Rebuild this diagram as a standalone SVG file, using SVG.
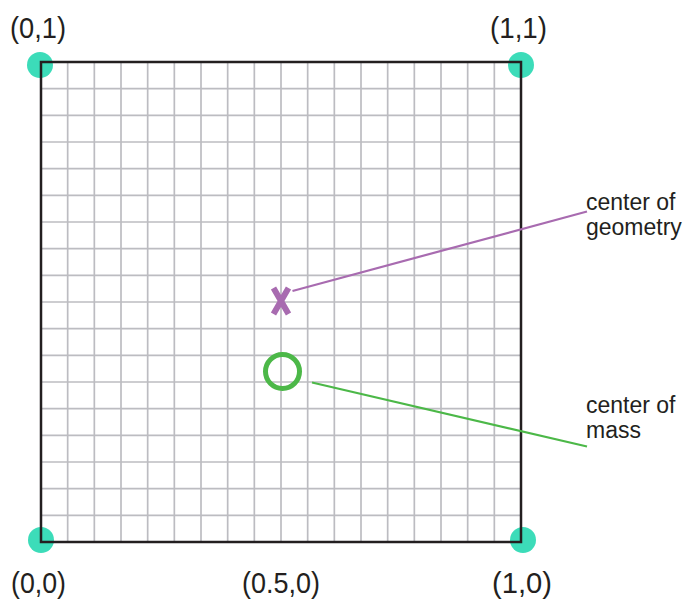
<svg xmlns="http://www.w3.org/2000/svg" width="687" height="600" viewBox="0 0 687 600">
<style>
.lbl{font-family:"Liberation Sans",Arial,sans-serif;font-size:30px;fill:#231f20}
.note{font-family:"Liberation Sans",Arial,sans-serif;font-size:23px;fill:#231f20}
.grid line{stroke:#bcbcc1;stroke-width:1.7}
.dot{fill:#3cdcb9}
</style>
<rect width="687" height="600" fill="#ffffff"/>
<g id="corner-dots">
<circle class="dot" cx="40" cy="65" r="13"/>
<circle class="dot" cx="521" cy="65" r="13"/>
<circle class="dot" cx="41" cy="540" r="13"/>
<circle class="dot" cx="523" cy="540" r="13"/>
</g>
<g id="grid" class="grid">
<line x1="67.67" y1="62" x2="67.67" y2="542"/>
<line x1="94.33" y1="62" x2="94.33" y2="542"/>
<line x1="121" y1="62" x2="121" y2="542"/>
<line x1="147.67" y1="62" x2="147.67" y2="542"/>
<line x1="174.33" y1="62" x2="174.33" y2="542"/>
<line x1="201" y1="62" x2="201" y2="542"/>
<line x1="227.67" y1="62" x2="227.67" y2="542"/>
<line x1="254.33" y1="62" x2="254.33" y2="542"/>
<line x1="281" y1="62" x2="281" y2="542"/>
<line x1="307.67" y1="62" x2="307.67" y2="542"/>
<line x1="334.33" y1="62" x2="334.33" y2="542"/>
<line x1="361" y1="62" x2="361" y2="542"/>
<line x1="387.67" y1="62" x2="387.67" y2="542"/>
<line x1="414.33" y1="62" x2="414.33" y2="542"/>
<line x1="441" y1="62" x2="441" y2="542"/>
<line x1="467.67" y1="62" x2="467.67" y2="542"/>
<line x1="494.33" y1="62" x2="494.33" y2="542"/>
<line x1="41" y1="88.67" x2="521" y2="88.67"/>
<line x1="41" y1="115.33" x2="521" y2="115.33"/>
<line x1="41" y1="142" x2="521" y2="142"/>
<line x1="41" y1="168.67" x2="521" y2="168.67"/>
<line x1="41" y1="195.33" x2="521" y2="195.33"/>
<line x1="41" y1="222" x2="521" y2="222"/>
<line x1="41" y1="248.67" x2="521" y2="248.67"/>
<line x1="41" y1="275.33" x2="521" y2="275.33"/>
<line x1="41" y1="302" x2="521" y2="302"/>
<line x1="41" y1="328.67" x2="521" y2="328.67"/>
<line x1="41" y1="355.33" x2="521" y2="355.33"/>
<line x1="41" y1="382" x2="521" y2="382"/>
<line x1="41" y1="408.67" x2="521" y2="408.67"/>
<line x1="41" y1="435.33" x2="521" y2="435.33"/>
<line x1="41" y1="462" x2="521" y2="462"/>
<line x1="41" y1="488.67" x2="521" y2="488.67"/>
<line x1="41" y1="515.33" x2="521" y2="515.33"/>
</g>
<g id="square">
<rect x="41" y="62" width="480" height="480" fill="none" stroke="#231f20" stroke-width="2.5"/>
</g>
<g id="center-of-geometry-marker">
<path d="M273.5 288 L288.5 314 M288.5 288 L273.5 314" stroke="#a86bb0" stroke-width="6" fill="none"/>
</g>
<g id="center-of-mass-marker">
<circle cx="282.5" cy="371.5" r="17" fill="none" stroke="#4cb848" stroke-width="5"/>
</g>
<g id="connectors" fill="none" stroke-width="2.2">
<line x1="292.5" y1="291" x2="587" y2="211.5" stroke="#a86bb0"/>
<line x1="312" y1="382.5" x2="587" y2="446.5" stroke="#4cb848"/>
</g>
<g id="labels">
<text class="lbl" x="10" y="38" textLength="56" lengthAdjust="spacingAndGlyphs">(0,1)</text>
<text class="lbl" x="490" y="38" textLength="57" lengthAdjust="spacingAndGlyphs">(1,1)</text>
<text class="lbl" x="11" y="593" textLength="55" lengthAdjust="spacingAndGlyphs">(0,0)</text>
<text class="lbl" x="242" y="593" textLength="78" lengthAdjust="spacingAndGlyphs">(0.5,0)</text>
<text class="lbl" x="492" y="593" textLength="60" lengthAdjust="spacingAndGlyphs">(1,0)</text>
</g>
<g id="note-geometry">
<text class="note" x="586" y="210">center of</text>
<text class="note" x="586" y="235">geometry</text>
</g>
<g id="note-mass">
<text class="note" x="586" y="413">center of</text>
<text class="note" x="586" y="438">mass</text>
</g>
</svg>
